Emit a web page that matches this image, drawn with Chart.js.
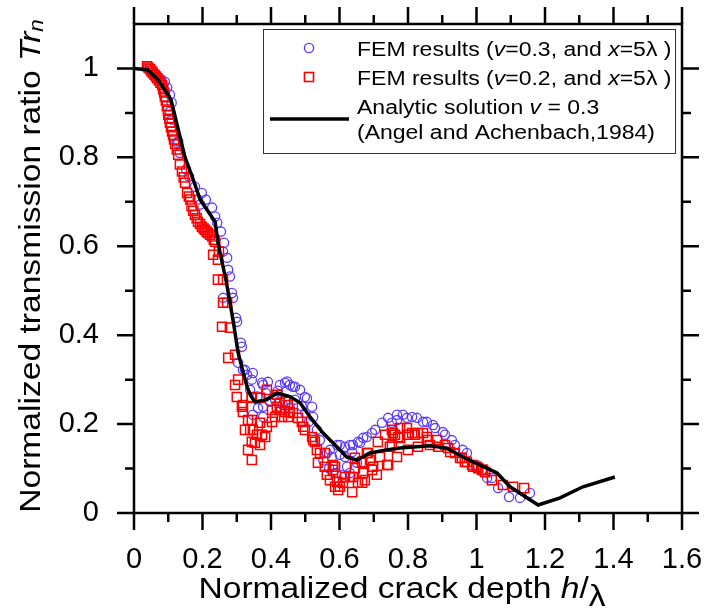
<!DOCTYPE html>
<html>
<head>
<meta charset="utf-8">
<script src="https://cdn.jsdelivr.net/npm/chart.js@4.4.1/dist/chart.umd.min.js"></script>
<style>
html,body{margin:0;padding:0;background:#fff}
#wrap{width:705px;height:612px;position:relative}
</style>
</head>
<body>
<div id="wrap"><canvas id="c"></canvas></div>
<script>
// analytic solution v=0.3 (Angel and Achenbach, 1984)
var analytic = [[0,1.0],[0.04,0.997],[0.07,0.975],[0.1,0.94],[0.108,0.93],[0.149,0.80],[0.178,0.739],
  [0.193,0.705],[0.237,0.655],[0.245,0.608],[0.27,0.518],[0.289,0.435],[0.304,0.36],[0.33,0.284],
  [0.34,0.265],[0.353,0.25],[0.388,0.255],[0.417,0.27],[0.455,0.262],[0.485,0.248],[0.514,0.216],
  [0.552,0.18],[0.592,0.149],[0.621,0.126],[0.65,0.119],[0.689,0.135],[0.737,0.142],[0.776,0.146],
  [0.864,0.151],[0.913,0.146],[0.96,0.126],[1.03,0.101],[1.06,0.09],[1.098,0.059],[1.18,0.018],
  [1.244,0.034],[1.311,0.059],[1.404,0.081]];

// FEM v=0.3, x=5 lambda
var fem03 = [[0.04,1.0],[0.05,0.995],[0.06,0.988],[0.07,0.98],[0.08,0.975],[0.09,0.97],[0.097,0.957],
  [0.105,0.941],[0.11,0.923],[0.105,0.903],[0.11,0.885],[0.125,0.833],[0.129,0.836],[0.134,0.81],
  [0.152,0.773],[0.161,0.757],[0.178,0.734],[0.187,0.705],[0.193,0.694],[0.198,0.72],[0.21,0.705],
  [0.228,0.687],[0.237,0.667],[0.243,0.653],[0.254,0.633],[0.263,0.608],[0.26,0.588],[0.272,0.574],
  [0.275,0.547],[0.28,0.532],[0.26,0.484],[0.286,0.495],[0.289,0.484],[0.298,0.439],[0.301,0.43],
  [0.312,0.383],[0.315,0.374],[0.304,0.338],[0.318,0.322],[0.324,0.322],[0.33,0.311],[0.347,0.315],
  [0.344,0.3],[0.339,0.277],[0.362,0.236],[0.377,0.239],[0.377,0.288],[0.374,0.293],[0.391,0.295],
  [0.397,0.25],[0.412,0.254],[0.426,0.288],[0.435,0.243],[0.441,0.293],[0.447,0.296],[0.455,0.288],
  [0.455,0.236],[0.464,0.284],[0.47,0.284],[0.485,0.277],[0.499,0.261],[0.505,0.258],[0.347,0.221],
  [0.377,0.216],[0.36,0.262],[0.385,0.27],[0.42,0.275],[0.47,0.255],[0.49,0.24],[0.5,0.225],
  [0.51,0.205],[0.52,0.239],[0.523,0.216],[0.534,0.187],[0.543,0.164],[0.553,0.118],[0.563,0.135],
  [0.57,0.1],[0.572,0.142],[0.578,0.126],[0.581,0.108],[0.59,0.09],[0.593,0.153],[0.601,0.131],
  [0.607,0.085],[0.601,0.153],[0.616,0.149],[0.616,0.126],[0.622,0.104],[0.63,0.09],[0.631,0.153],
  [0.637,0.137],[0.639,0.153],[0.651,0.113],[0.654,0.16],[0.66,0.158],[0.669,0.169],[0.68,0.171],
  [0.695,0.18],[0.704,0.187],[0.724,0.203],[0.742,0.214],[0.753,0.203],[0.768,0.221],[0.768,0.209],
  [0.785,0.221],[0.797,0.214],[0.812,0.216],[0.826,0.214],[0.844,0.205],[0.855,0.205],[0.873,0.198],
  [0.879,0.191],[0.902,0.182],[0.908,0.176],[0.928,0.164],[0.937,0.153],[0.96,0.142],[0.972,0.135],
  [1.0,0.108],[1.016,0.097],[1.031,0.079],[1.045,0.079],[1.063,0.056],[1.095,0.036],[1.127,0.034],
  [1.156,0.045]];

// FEM v=0.2, x=5 lambda
var fem02 = [[0.038,1.005],[0.042,1.002],[0.047,0.998],[0.051,0.994],[0.055,0.99],[0.06,0.986],
  [0.064,0.982],[0.068,0.978],[0.073,0.973],[0.077,0.968],[0.082,0.962],[0.085,0.953],[0.088,0.946],
  [0.09,0.937],[0.093,0.928],[0.096,0.915],[0.099,0.905],[0.1,0.896],[0.103,0.887],[0.105,0.878],
  [0.108,0.868],[0.111,0.858],[0.114,0.85],[0.117,0.84],[0.12,0.83],[0.125,0.818],[0.129,0.806],
  [0.134,0.784],[0.14,0.768],[0.145,0.755],[0.149,0.743],[0.155,0.72],[0.16,0.712],[0.164,0.705],
  [0.168,0.69],[0.173,0.68],[0.178,0.671],[0.183,0.663],[0.187,0.655],[0.193,0.65],[0.198,0.644],
  [0.203,0.64],[0.207,0.637],[0.212,0.633],[0.216,0.63],[0.222,0.626],[0.228,0.622],[0.233,0.615],
  [0.237,0.61],[0.231,0.581],[0.245,0.57],[0.248,0.588],[0.245,0.525],[0.26,0.525],[0.26,0.473],
  [0.272,0.473],[0.257,0.419],[0.28,0.417],[0.275,0.349],[0.295,0.356],[0.304,0.3],[0.295,0.288],
  [0.3,0.261],[0.344,0.261],[0.318,0.243],[0.318,0.227],[0.333,0.209],[0.324,0.187],[0.339,0.187],
  [0.347,0.187],[0.359,0.176],[0.344,0.16],[0.353,0.158],[0.368,0.153],[0.333,0.142],[0.344,0.119],
  [0.383,0.171],[0.374,0.176],[0.368,0.203],[0.388,0.194],[0.344,0.259],[0.368,0.259],[0.388,0.277],
  [0.417,0.266],[0.315,0.239],[0.344,0.209],[0.403,0.205],[0.403,0.232],[0.417,0.239],[0.426,0.248],
  [0.441,0.25],[0.449,0.243],[0.426,0.232],[0.441,0.227],[0.455,0.227],[0.464,0.225],[0.412,0.216],
  [0.432,0.216],[0.45,0.216],[0.479,0.214],[0.49,0.205],[0.494,0.194],[0.499,0.187],[0.52,0.171],
  [0.523,0.164],[0.528,0.16],[0.534,0.142],[0.543,0.135],[0.557,0.135],[0.537,0.113],[0.557,0.104],
  [0.587,0.104],[0.563,0.086],[0.616,0.081],[0.639,0.081],[0.669,0.09],[0.645,0.124],[0.666,0.113],
  [0.68,0.135],[0.689,0.119],[0.698,0.104],[0.709,0.086],[0.718,0.126],[0.733,0.176],[0.739,0.108],
  [0.753,0.153],[0.756,0.18],[0.768,0.126],[0.771,0.171],[0.572,0.074],[0.581,0.108],[0.581,0.097],
  [0.587,0.059],[0.593,0.07],[0.596,0.052],[0.601,0.059],[0.61,0.068],[0.631,0.081],[0.645,0.101],
  [0.637,0.047],[0.654,0.068],[0.666,0.068],[0.674,0.074],[0.666,0.115],[0.683,0.135],[0.695,0.097],
  [0.712,0.16],[0.742,0.108],[0.747,0.149],[0.753,0.187],[0.762,0.176],[0.777,0.191],[0.777,0.169],
  [0.797,0.191],[0.8,0.176],[0.8,0.142],[0.812,0.18],[0.82,0.176],[0.829,0.18],[0.829,0.149],
  [0.844,0.18],[0.855,0.171],[0.858,0.164],[0.864,0.153],[0.885,0.164],[0.888,0.149],[0.908,0.153],
  [0.917,0.146],[0.923,0.137],[0.937,0.135],[0.952,0.124],[0.957,0.124],[0.966,0.115],[0.972,0.115],
  [0.987,0.108],[0.99,0.104],[1.0,0.104],[1.005,0.101],[1.016,0.097],[1.019,0.097],[1.025,0.092],
  [1.045,0.074],[1.077,0.063],[1.107,0.059],[1.139,0.056]];

var xLabels = ['0','0.2','0.4','0.6','0.8','1','1.2','1.4','1.6'];
var yLabels = ['0','0.2','0.4','0.6','0.8','1'];

var FONT = '"Liberation Sans", Arial, Helvetica, sans-serif';
var BLUE = 'rgb(90,60,255)';
var RED = 'rgb(255,0,0)';

function pts(a){ return a.map(function(p){ return {x:p[0], y:p[1]}; }); }
function tenths(v){ return Math.round(v*10); }
function isMajor(v){ return tenths(v) % 2 === 0; }
function noPad(s){ s.paddingTop = 0; s.paddingBottom = 0; s.paddingLeft = 0; s.paddingRight = 0; }

// draw a string made of pieces (some italic / shifted), sx = along-text stretch
function drawRuns(ctx, parts, size, sx, align){
  var w = 0;
  parts.forEach(function(p){
    ctx.font = (p.i ? 'italic ' : '') + (p.s || size) + 'px ' + FONT;
    w += ctx.measureText(p.t).width;
  });
  ctx.save();
  ctx.scale(sx, 1);
  var cx = align === 'center' ? -w/2 : 0;
  parts.forEach(function(p){
    ctx.font = (p.i ? 'italic ' : '') + (p.s || size) + 'px ' + FONT;
    ctx.fillText(p.t, cx, p.dy || 0);
    cx += ctx.measureText(p.t).width;
  });
  ctx.restore();
}

var frame = {
  id: 'frame',
  afterDatasetsDraw: function(chart){
    var ctx = chart.ctx, a = chart.chartArea, xs = chart.scales.x, ys = chart.scales.y;
    ctx.save();
    ctx.strokeStyle = '#000';
    ctx.lineWidth = 2.5;
    ctx.strokeRect(a.left, a.top, a.right - a.left, a.bottom - a.top);
    ctx.beginPath();
    xs.ticks.forEach(function(t){
      var p = xs.getPixelForValue(t.value), len = isMajor(t.value) ? 17 : 9;
      ctx.moveTo(p, a.bottom); ctx.lineTo(p, a.bottom + len);
      ctx.moveTo(p, a.top); ctx.lineTo(p, a.top - len);
    });
    ys.ticks.forEach(function(t){
      if (tenths(t.value) > 10) return;
      var p = ys.getPixelForValue(t.value), len = isMajor(t.value) ? 17 : 9;
      ctx.moveTo(a.left, p); ctx.lineTo(a.left - len, p);
      ctx.moveTo(a.right, p); ctx.lineTo(a.right + len, p);
    });
    ctx.stroke();
    ctx.restore();
  },
  afterDraw: function(chart){
    var ctx = chart.ctx, a = chart.chartArea;
    ctx.save();
    ctx.fillStyle = '#000';
    ctx.textBaseline = 'alphabetic';

    // axis titles
    ctx.save();
    ctx.translate(402, 598);
    drawRuns(ctx, [{t:'Normalized crack depth '},{t:'h',i:true},{t:'/'},{t:'\u03bb',dy:8}], 30, 1.12, 'center');
    ctx.restore();

    ctx.save();
    ctx.translate(40, 266);
    ctx.rotate(-Math.PI/2);
    drawRuns(ctx, [{t:'Normalized transmission ratio '},{t:'Tr',i:true},{t:'n',i:true,s:20,dy:3}], 30, 1.12, 'center');
    ctx.restore();

    // legend
    var L = 263, T = 29, R = 675, B = 153;
    ctx.fillStyle = '#fff';
    ctx.fillRect(L, T, R - L, B - T);
    ctx.strokeStyle = '#333';
    ctx.lineWidth = 1;
    ctx.strokeRect(L + 0.5, T + 0.5, R - L, B - T);

    ctx.strokeStyle = BLUE; ctx.lineWidth = 1.4;
    ctx.beginPath(); ctx.arc(309, 48, 4.6, 0, Math.PI*2); ctx.stroke();
    ctx.strokeStyle = RED; ctx.lineWidth = 1.6;
    ctx.strokeRect(304.5, 72.5, 9, 9);
    ctx.strokeStyle = '#000'; ctx.lineWidth = 3.5;
    ctx.beginPath(); ctx.moveTo(270, 119); ctx.lineTo(349, 119); ctx.stroke();

    ctx.fillStyle = '#000';
    var rows = [
      [56, [{t:'FEM results ('},{t:'v',i:true},{t:'=0.3, and '},{t:'x',i:true},{t:'=5\u03bb )'}]],
      [85, [{t:'FEM results ('},{t:'v',i:true},{t:'=0.2, and '},{t:'x',i:true},{t:'=5\u03bb )'}]],
      [114, [{t:'Analytic solution '},{t:'v',i:true},{t:' = 0.3'}]],
      [139, [{t:'(Angel and Achenbach,1984)'}]]
    ];
    rows.forEach(function(r){
      ctx.save();
      ctx.translate(357, r[0]);
      drawRuns(ctx, r[1], 20, 1.15, 'left');
      ctx.restore();
    });
    ctx.restore();
  }
};

new Chart(document.getElementById('c'), {
  type: 'scatter',
  data: {
    datasets: [
      {
        label: 'Analytic solution v = 0.3',
        type: 'line',
        data: pts(analytic),
        borderColor: '#000',
        borderWidth: 3.5,
        pointRadius: 0,
        tension: 0,
        fill: false
      },
      {
        label: 'FEM results (v=0.2, and x=5\u03bb)',
        data: pts(fem02),
        pointStyle: 'rect',
        pointRadius: 6.4,
        borderColor: RED,
        borderWidth: 1.5,
        backgroundColor: 'rgba(0,0,0,0)'
      },
      {
        label: 'FEM results (v=0.3, and x=5\u03bb)',
        data: pts(fem03),
        pointStyle: 'circle',
        pointRadius: 4.6,
        borderColor: BLUE,
        borderWidth: 1.3,
        backgroundColor: 'rgba(0,0,0,0)'
      }
    ]
  },
  options: {
    responsive: true,
    maintainAspectRatio: false,
    animation: false,
    layout: { padding: { top: 24, right: 23, left: 0, bottom: 0 } },
    plugins: { legend: { display: false }, tooltip: { enabled: false } },
    scales: {
      x: {
        type: 'linear', min: 0, max: 1.6,
        grid: { display: false },
        border: { display: false },
        ticks: {
          stepSize: 0.1, autoSkip: false, maxRotation: 0, padding: 22,
          color: '#000', font: { family: FONT, size: 29 },
          callback: function(v){ var k = tenths(v); return k % 2 === 0 ? xLabels[k/2] : ''; }
        },
        afterFit: function(s){ s.height = 99; noPad(s); }
      },
      y: {
        type: 'linear', min: 0, max: 1.1,
        grid: { display: false },
        border: { display: false },
        ticks: {
          stepSize: 0.1, autoSkip: false, padding: 27,
          color: '#000', font: { family: FONT, size: 29 },
          callback: function(v){ var k = tenths(v); return (k % 2 === 0 && k <= 10) ? yLabels[k/2] : ''; }
        },
        afterFit: function(s){ s.width = 134; noPad(s); }
      }
    }
  },
  plugins: [frame]
});
</script>
</body>
</html>
